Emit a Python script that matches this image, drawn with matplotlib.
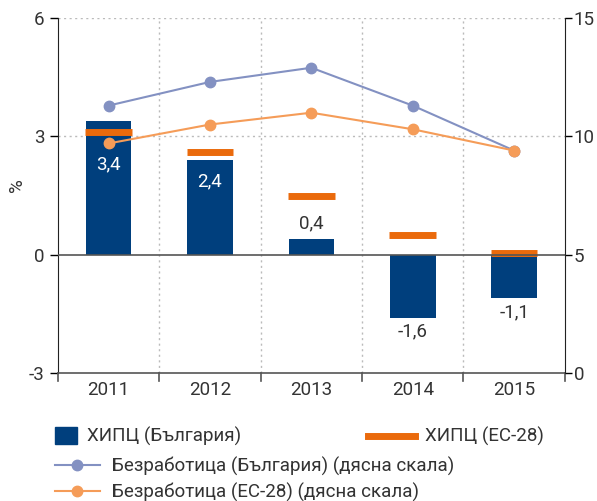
import matplotlib
matplotlib.use("Agg")
import matplotlib.pyplot as plt
import matplotlib.patches as mp
from matplotlib.lines import Line2D
import numpy as np

years = ["2011", "2012", "2013", "2014", "2015"]
hicp_bg = [3.4, 2.4, 0.4, -1.6, -1.1]
hicp_eu = [3.1, 2.6, 1.5, 0.5, 0.05]
unemp_bg = [11.3, 12.3, 12.9, 11.3, 9.4]
unemp_eu = [9.7, 10.5, 11.0, 10.3, 9.4]
bar_labels = ["3,4", "2,4", "0,4", "-1,6", "-1,1"]

navy = "#003f7d"
orange = "#ea6a0c"
lblue = "#8391c2"
lorange = "#f59c58"
txt = "#333333"
fs = 13.5

plt.rcParams['font.family'] = ['Roboto', 'DejaVu Sans']

fig = plt.figure(figsize=(5.97, 5.01), dpi=100)
ax = fig.add_axes([0.097, 0.2555, 0.849, 0.7085])
x = np.arange(len(years))

ax.bar(x, hicp_bg, width=0.45, color=navy, zorder=3)
ax.hlines(hicp_eu, x - 0.23, x + 0.23, color=orange, lw=5, zorder=4)

# labels: inside the bar below the EU mark, above small bars, under negative bars
for i, (v, e, lab) in enumerate(zip(hicp_bg, hicp_eu, bar_labels)):
    if v > 1:
        ax.text(i, min(v, e) - 0.55 - 0.25 * (e < v), lab, ha="center", va="center",
                color="white", fontsize=fs, zorder=5)
    elif v > 0:
        ax.text(i, v + 0.4, lab, ha="center", va="center", color=txt, fontsize=fs, zorder=5)
    else:
        ax.text(i, v - 0.35, lab, ha="center", va="center", color=txt, fontsize=fs, zorder=5)

ax.set_xlim(-0.5, 4.5)
ax.set_ylim(-3, 6)
ax.set_yticks([-3, 0, 3, 6])
ax.set_yticklabels(["-3", "0", "3", "6"])
ax.set_xticks(x)
ax.set_xticklabels(years)
ax.tick_params(axis="x", length=0, labelsize=fs, labelcolor=txt, pad=6)
ax.tick_params(axis="y", length=6, width=1, labelsize=fs, labelcolor=txt, direction="out")
ax.set_ylabel("%", fontsize=fs, color=txt)
ax.yaxis.set_label_coords(-0.062, 0.53)

# grid: dotted lines at 3 and 6, and at category boundaries
for yv in [3, 6]:
    ax.axhline(yv, color="#bbbbbb", lw=1, ls=(0, (1.5, 2.5)), zorder=1)
for xb in np.arange(0.5, 4.5, 1):
    ax.axvline(xb, color="#bbbbbb", lw=1, ls=(0, (1.5, 2.5)), zorder=1)
    ax.plot([xb, xb], [-3, -3.2], color="#555555", lw=1.2, clip_on=False)
for xb in [-0.5, 4.5]:
    ax.plot([xb, xb], [-3, -3.2], color="#555555", lw=1.2, clip_on=False)
ax.axhline(0, color="#555555", lw=1.2, zorder=4)

ax.spines["top"].set_visible(False)
ax.spines["left"].set_color("#222222")
ax.spines["right"].set_visible(False)
ax.spines["bottom"].set_color("#555555")
ax.spines["bottom"].set_linewidth(1.2)

ax2 = ax.twinx()
ax2.set_ylim(0, 15)
ax2.set_yticks([0, 5, 10, 15])
ax2.plot(x, unemp_bg, color=lblue, lw=1.5, marker="o", ms=7.5, zorder=5)
ax2.plot(x, unemp_eu, color=lorange, lw=1.5, marker="o", ms=7.5, zorder=5)
ax2.tick_params(axis="y", length=5, width=1, labelsize=fs, labelcolor=txt,
                direction="out", pad=1.5)
ax2.spines["top"].set_visible(False)
ax2.spines["left"].set_visible(False)
ax2.spines["bottom"].set_visible(False)
ax2.spines["right"].set_color("#222222")

# legend, one entry at a time so each sits where the original has it
def leg(handle, label, xy, hl, hh=0.7, pad=0.55):
    l = fig.legend([handle], [label], frameon=False, loc="center left", bbox_to_anchor=xy,
                   fontsize=fs, handlelength=hl, handleheight=hh, handletextpad=pad,
                   borderpad=0, borderaxespad=0, labelcolor=txt)
    return l

leg(mp.Patch(color=navy), "ХИПЦ (България)", (0.092, 0.128), 1.17, hh=1.0)
leg(Line2D([], [], color=orange, lw=5), "ХИПЦ (ЕС-28)", (0.616, 0.128), 2.5)
leg(Line2D([], [], color=lblue, lw=1.5, marker="o", ms=7.5),
    "Безработица (България) (дясна скала)", (0.092, 0.070), 2.4, pad=0.65)
leg(Line2D([], [], color=lorange, lw=1.5, marker="o", ms=7.5),
    "Безработица (ЕС-28) (дясна скала)", (0.092, 0.018), 2.4, pad=0.65)

fig.savefig("out.png", dpi=100)
